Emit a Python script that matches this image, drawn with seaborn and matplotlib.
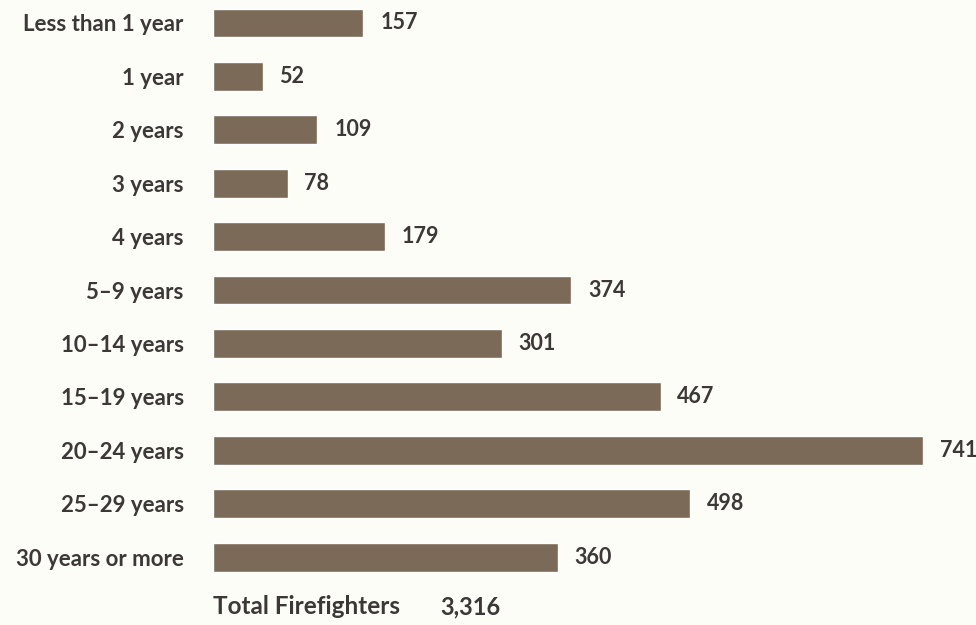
import matplotlib
matplotlib.use("Agg")
import matplotlib.pyplot as plt
import seaborn as sns
import pandas as pd

# %% — Data
categories = ["Less than 1 year", "1 year", "2 years", "3 years", "4 years",
              "5\u20139 years", "10\u201314 years", "15\u201319 years",
              "20\u201324 years", "25\u201329 years", "30 years or more"]
counts = [157, 52, 109, 78, 179, 374, 301, 467, 741, 498, 360]
total_label = "Total Firefighters"
total_value = "3,316"

df = pd.DataFrame({"tenure": categories, "count": counts})

bg = "#fdfdf8"
bar_color = "#7b6a57"
text_color = "#3b3835"
fs = 16

sns.set_theme(style="white")
plt.rcParams["font.family"] = ["Lato", "DejaVu Sans"]

fig = plt.figure(figsize=(9.76, 6.25), dpi=100, facecolor=bg)
ax = fig.add_axes([213 / 976, 0, 1 - 213 / 976, 1])
ax.set_facecolor(bg)

sns.barplot(data=df, y="tenure", x="count", color=bar_color, saturation=1,
            width=0.54, ax=ax, orient="h")

ax.set_xlim(0, 796)
ax.set_ylim(11.27, -0.43)
ax.bar_label(ax.containers[0], labels=[str(v) for v in counts], padding=12,
             fontsize=fs - 0.5, fontweight="bold", color=text_color)

ax.set_xlabel("")
ax.set_ylabel("")
ax.set_xticks([])
ax.tick_params(axis="y", length=0, pad=21)
for lab in ax.get_yticklabels():
    lab.set_fontsize(fs)
    lab.set_fontweight("bold")
    lab.set_color(text_color)
sns.despine(ax=ax, left=True, bottom=True)

# total line under the bars
fig.text(213 / 976, 1 - 607 / 625, total_label, fontsize=17.5, fontweight="bold",
         color=text_color, va="center", ha="left")
fig.text(440 / 976, 1 - 607 / 625, total_value, fontsize=17, fontweight="bold",
         color=text_color, va="center", ha="left")

fig.savefig("out.png", dpi=100, facecolor=bg)
